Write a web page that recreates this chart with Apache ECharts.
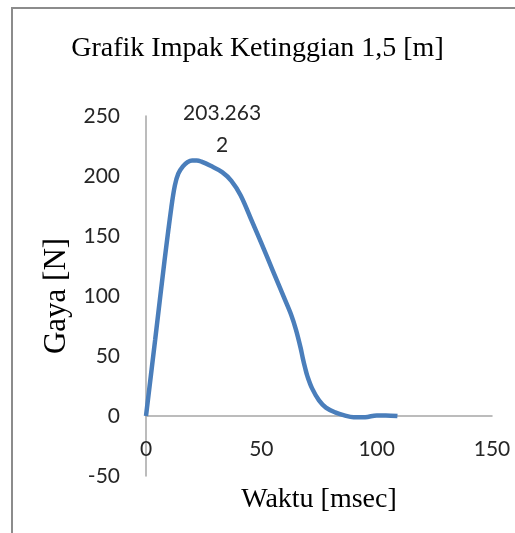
<!DOCTYPE html>
<html>
<head>
<meta charset="utf-8">
<script src="https://cdn.jsdelivr.net/npm/echarts@6/dist/echarts.min.js"></script>
<style>
  html, body { margin: 0; padding: 0; background: #fff; }
  #chart { width: 515px; height: 533px; }
</style>
</head>
<body>
<div id="chart"></div>
<script>
// data
var waktu = [0, 4, 8, 11, 12.5, 14, 16, 18, 20, 22, 24, 28, 33, 37, 41, 46, 50, 55, 60, 63, 65, 67, 68, 69, 70, 72, 75, 78, 82, 86, 90, 95, 100, 104, 109]
var gaya = [0, 64, 129, 174, 192, 202, 208, 211.5, 213, 213, 212, 208.5, 203.2632, 196, 184, 162, 144, 121, 98, 84, 72, 57, 48, 40, 33, 23, 13, 7, 3, 0.5, -1, -1, 0.5, 0.5, 0]
var labelIndex = 12
var xTicks = [0, 50, 150]
var yTicks = [-50, 0, 250]

var seriesData = waktu.map(function (x, i) {
  var p = { value: [x, gaya[i]] }
  if (i === labelIndex) {
    p.label = {
      show: true,
      position: 'top',
      distance: 11,
      formatter: function () { return '203.263\n2' },
      fontFamily: 'Lato',
      fontSize: 21,
      lineHeight: 32,
      color: '#262626',
      align: 'center'
    }
  }
  return p
})

var chart = echarts.init(document.getElementById('chart'))
var option = {
  animation: false,
  title: {
    text: 'Grafik Impak Ketinggian 1,5 [m]',
    left: 'center',
    top: 30,
    textStyle: { fontFamily: 'Liberation Serif', fontSize: 28, fontWeight: 'normal', color: '#000' }
  },
  graphic: [{
    type: 'rect',
    shape: { x: 12, y: 8, width: 700, height: 700 },
    style: { fill: 'none', stroke: '#8c8c8c', lineWidth: 2 }
  }],
  grid: { left: 146, right: 23, top: 116, bottom: 57, containLabel: false, outerBoundsMode: 'none' },
  xAxis: {
    type: 'value',
    min: xTicks[0], max: xTicks[2], interval: xTicks[1],
    name: 'Waktu [msec]',
    nameLocation: 'middle',
    nameGap: 10,
    nameTextStyle: { fontFamily: 'Liberation Serif', fontSize: 28, color: '#000', verticalAlign: 'top' },
    axisLine: { onZero: true, lineStyle: { color: '#a6a6a6', width: 1.5 } },
    axisTick: { show: false },
    splitLine: { show: false },
    axisLabel: { margin: -37, fontFamily: 'Lato', fontSize: 21, color: '#262626' }
  },
  yAxis: {
    type: 'value',
    min: yTicks[0], max: yTicks[2], interval: yTicks[1] - yTicks[0],
    name: 'Gaya [N]',
    nameLocation: 'middle',
    nameGap: 72,
    nameTextStyle: { fontFamily: 'Liberation Serif', fontSize: 31, color: '#000' },
    axisLine: { show: true, onZero: false, lineStyle: { color: '#a6a6a6', width: 1.5 } },
    axisTick: { show: false },
    splitLine: { show: false },
    axisLabel: { margin: 26, fontFamily: 'Lato', fontSize: 21, color: '#262626' }
  },
  series: [{
    type: 'line',
    data: seriesData,
    smooth: 0.35,
    showSymbol: true,
    symbol: 'circle',
    symbolSize: 0,
    lineStyle: { color: '#4a7ebb', width: 4.5 }
  }]
}
chart.setOption(option, true)
</script>
</body>
</html>
